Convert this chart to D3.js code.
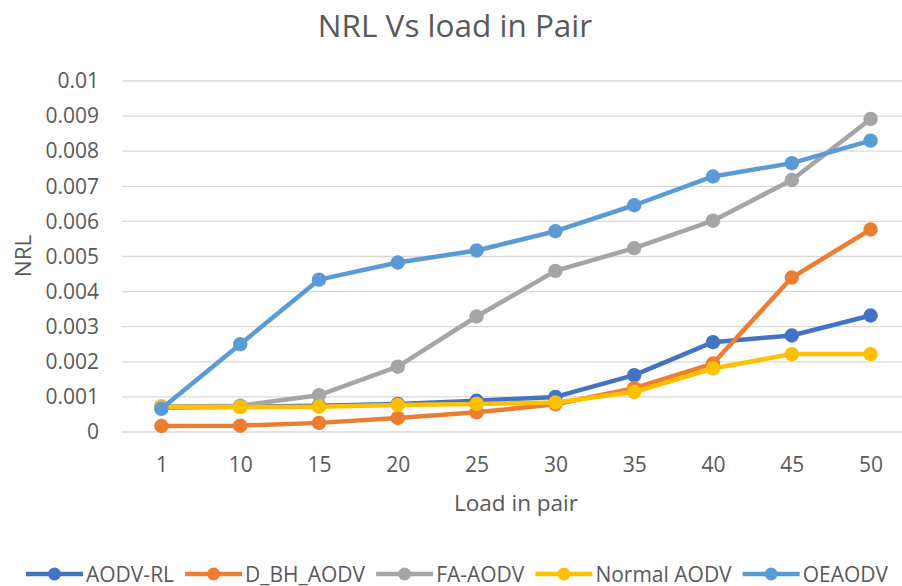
<!DOCTYPE html>
<html><head><meta charset="utf-8">
<script src="https://cdn.jsdelivr.net/npm/d3@7"></script>
<style>body{margin:0;background:#fff;} svg{display:block;}</style>
</head><body>
<svg id="c" width="902" height="586"></svg>
<script>
const categories = ["1","10","15","20","25","30","35","40","45","50"];
const yTicks = [0,0.001,0.002,0.003,0.004,0.005,0.006,0.007,0.008,0.009,0.01];
const seriesNames = ["AODV-RL","D_BH_AODV","FA-AODV","Normal AODV","OEAODV"];
const aodvRL    = [0.00070,0.00072,0.00075,0.00080,0.00089,0.00100,0.00162,0.00256,0.00275,0.00332];
const dBhAodv   = [0.00017,0.00018,0.00026,0.00040,0.00056,0.00079,0.00125,0.00195,0.00440,0.00577];
const faAodv    = [0.00073,0.00075,0.00105,0.00186,0.00329,0.00459,0.00524,0.00602,0.00718,0.00892];
const normalAodv= [0.00071,0.00071,0.00072,0.00077,0.00080,0.00084,0.00114,0.00181,0.00222,0.00222];
const oeaodv    = [0.00066,0.00250,0.00434,0.00483,0.00517,0.00572,0.00646,0.00728,0.00766,0.00830];
const seriesValues = [aodvRL,dBhAodv,faAodv,normalAodv,oeaodv];
const colors = ["#4472C4","#ED7D31","#A5A5A5","#FFC000","#5B9BD5"];

(function(){
const svg = d3.select("#c");
const font = "'Open Sans', sans-serif";
const textColor = "#595959";
const pLeft = 122, pRight = 910, pTop = 81, pBottom = 432;

const x = d3.scalePoint().domain(categories).range([pLeft, pRight]).padding(0.5);
const y = d3.scaleLinear().domain([0,0.01]).range([pBottom, pTop]);

// gridlines
svg.append("g").selectAll("line").data(yTicks).join("line")
  .attr("x1", pLeft).attr("x2", pRight)
  .attr("y1", d => y(d)).attr("y2", d => y(d))
  .attr("stroke", "#D9D9D9").attr("stroke-width", 1.3);

// y axis
const ya = svg.append("g").attr("transform", `translate(${pLeft},0)`)
  .call(d3.axisLeft(y).tickValues(yTicks).tickSize(0).tickPadding(23).tickFormat(d => d === 0 ? "0" : String(+d.toFixed(3))));
ya.select(".domain").remove();
ya.selectAll("text").attr("font-family", font).attr("font-size", 21).attr("fill", textColor);

// x axis
const xa = svg.append("g").attr("transform", `translate(0,${pBottom})`)
  .call(d3.axisBottom(x).tickSize(0).tickPadding(25));
xa.select(".domain").remove();
xa.selectAll("text").attr("font-family", font).attr("font-size", 21).attr("fill", textColor);

// title
svg.append("text").attr("x", 455).attr("y", 37).attr("text-anchor", "middle")
  .attr("font-family", font).attr("font-size", 31.5).attr("fill", textColor)
  .text("NRL Vs load in Pair");

// axis titles
svg.append("text").attr("transform", "translate(31,256) rotate(-90)").attr("text-anchor", "middle")
  .attr("font-family", font).attr("font-size", 22.5).attr("fill", textColor).text("NRL");
svg.append("text").attr("x", 516).attr("y", 511).attr("text-anchor", "middle")
  .attr("font-family", font).attr("font-size", 22.5).attr("fill", textColor).text("Load in pair");

// series
const line = d3.line().x((d,i) => x(categories[i])).y(d => y(d));
seriesValues.forEach((vals, si) => {
  const g = svg.append("g");
  g.append("path").datum(vals).attr("d", line).attr("fill", "none")
    .attr("stroke", colors[si]).attr("stroke-width", 4.5).attr("stroke-linejoin", "round").attr("stroke-linecap", "round");
  g.selectAll("circle").data(vals).join("circle")
    .attr("cx", (d,i) => x(categories[i])).attr("cy", d => y(d)).attr("r", 7.2)
    .attr("fill", colors[si]);
});

// legend
const lg = svg.append("g");
let lx = 26;
const ly = 574;
seriesNames.forEach((name, i) => {
  lg.append("line").attr("x1", lx).attr("x2", lx + 57).attr("y1", ly).attr("y2", ly)
    .attr("stroke", colors[i]).attr("stroke-width", 4.5);
  lg.append("circle").attr("cx", lx + 28.5).attr("cy", ly).attr("r", 6.5).attr("fill", colors[i]);
  const t = lg.append("text").attr("x", lx + 60).attr("y", ly + 7.5)
    .attr("font-family", font).attr("font-size", 21).attr("fill", textColor).text(name);
  lx += 60 + t.node().getComputedTextLength() + 11;
});
})();
</script>
</body></html>
